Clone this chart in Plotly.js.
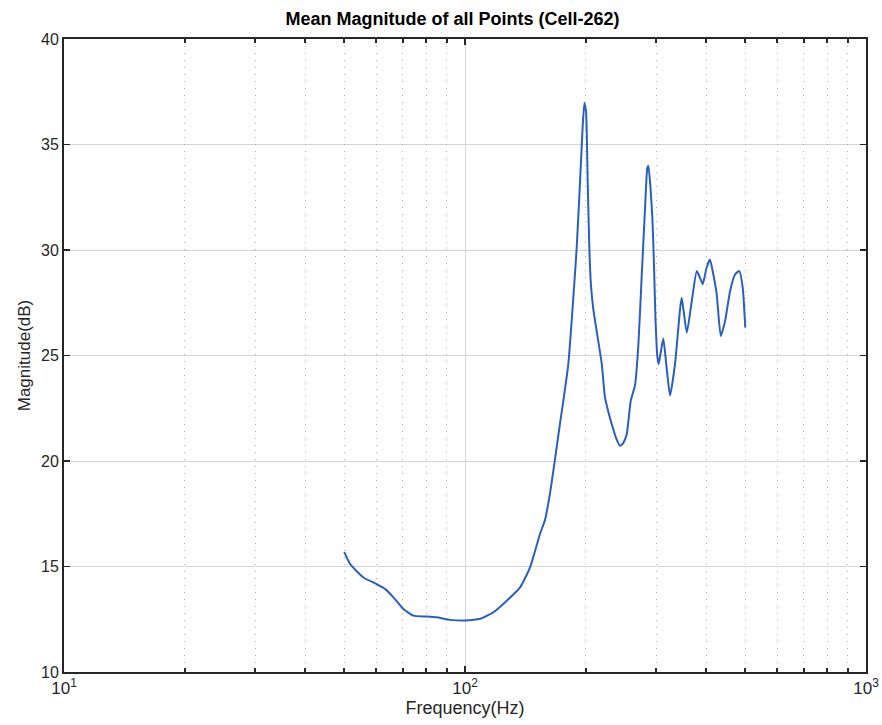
<!DOCTYPE html>
<html>
<head>
<meta charset="utf-8">
<script src="https://cdn.plot.ly/plotly-3.0.1.min.js"></script>
<style>html,body{margin:0;padding:0;background:#fff;}#chart{width:882px;height:725px;}</style>
</head>
<body>
<div id="chart"></div>
<script>
const freqHz = [50.0, 51.7, 55.8, 60.2, 63.2, 66.3, 70.2, 74.3, 80.3, 85.0, 91.8, 100, 109.0, 117.7, 127.1, 137.2, 145.3, 153.8, 158.3, 163.0, 167.7, 172.6, 175.9, 181.0, 186.2, 189.9, 193.6, 196.6, 198.5, 200.4, 202.3, 204.2, 206.0, 208.9, 213.0, 219.3, 223.4, 228.0, 232.2, 238.0, 243.5, 248.0, 253.1, 259.0, 265.5, 270.6, 275.9, 281.2, 284.9, 286.6, 290.0, 293.3, 296.1, 298.4, 301.8, 304.1, 308.0, 312.3, 318.0, 324.6, 334.0, 343.8, 347.1, 357.3, 367.7, 378.4, 385.5, 391.6, 400.6, 408.3, 416.2, 424.4, 434.3, 445.2, 458.1, 471.4, 483.1, 492.7, 500.0];
const magDb = [15.68, 15.12, 14.48, 14.17, 13.94, 13.54, 12.98, 12.67, 12.63, 12.59, 12.47, 12.44, 12.52, 12.83, 13.38, 14.01, 14.96, 16.54, 17.2, 18.5, 20.1, 21.8, 22.85, 24.6, 27.7, 30.1, 33.25, 35.9, 36.97, 36.55, 33.25, 30.1, 28.4, 27.2, 26.15, 24.6, 23.0, 22.3, 21.75, 21.1, 20.72, 20.85, 21.27, 22.85, 23.6, 25.5, 28.8, 32.0, 33.9, 33.98, 33.0, 31.5, 29.2, 26.85, 24.95, 24.6, 25.2, 25.8, 24.5, 23.1, 24.6, 27.2, 27.74, 26.08, 27.58, 29.0, 28.68, 28.38, 29.18, 29.55, 28.84, 27.9, 25.92, 26.63, 28.05, 28.84, 29.0, 28.21, 26.32];
const majorTicks = [10, 100, 1000];
const majorTickText = ['10<sup>1</sup>', '10<sup>2</sup>', '10<sup>3</sup>'];
const minorTicks = [20, 30, 40, 50, 60, 70, 80, 90, 200, 300, 400, 500, 600, 700, 800, 900];
const yTicks = [10, 15, 20, 25, 30, 35, 40];

const font = 'Liberation Sans, Arial, Helvetica, sans-serif';
const traces = [
  {
    x: [10, 1000], y: [10, 10], xaxis: 'x2', yaxis: 'y', type: 'scatter', mode: 'lines',
    line: {width: 0}, hoverinfo: 'skip', showlegend: false
  },
  {
    x: freqHz, y: magDb, type: 'scatter', mode: 'lines',
    line: {color: '#2b5fbd', width: 2, shape: 'spline', smoothing: 0.5},
    hoverinfo: 'x+y', showlegend: false
  }
];
const layout = {
  width: 882, height: 725,
  margin: {l: 64, r: 16, t: 39, b: 53},
  paper_bgcolor: '#ffffff', plot_bgcolor: '#ffffff',
  font: {family: font, size: 14, color: '#262626'},
  title: {text: '<b>Mean Magnitude of all Points (Cell-262)</b>', x: 0.513, xanchor: 'center', y: 0.974, yanchor: 'middle', font: {family: font, size: 18, color: '#000'}},
  xaxis2: {
    type: 'log', range: [1, 3], overlaying: 'x', side: 'bottom',
    tickvals: minorTicks, showticklabels: false, ticks: 'inside', ticklen: 4, tickwidth: 2, tickcolor: '#262626',
    showgrid: true, gridcolor: '#b0b0b0', griddash: '1px,6px', gridwidth: 1,
    showline: true, linecolor: '#262626', linewidth: 2, mirror: 'allticks', zeroline: false, fixedrange: true
  },
  xaxis: {
    type: 'log', range: [1, 3],
    tickvals: majorTicks, ticktext: majorTickText,
    ticks: 'inside', ticklen: 6, tickwidth: 1.5, tickcolor: '#262626',
    showgrid: true, gridcolor: '#d4d4d4', gridwidth: 1,
    showline: true, linecolor: '#262626', linewidth: 2, mirror: 'ticks',
    zeroline: false, tickfont: {family: font, size: 17, color: '#262626'},
    title: {text: 'Frequency(Hz)', font: {family: font, size: 18, color: '#262626'}, standoff: 2}
  },
  yaxis: {
    range: [10, 40], tickvals: yTicks,
    ticks: 'inside', ticklen: 6, tickwidth: 1.5, tickcolor: '#262626',
    showgrid: true, gridcolor: '#d4d4d4', gridwidth: 1,
    showline: true, linecolor: '#262626', linewidth: 2, mirror: 'ticks',
    zeroline: false, tickfont: {family: font, size: 16, color: '#262626'},
    title: {text: 'Magnitude(dB)', font: {family: font, size: 17, color: '#262626'}, standoff: 6}
  }
};
Plotly.newPlot('chart', traces, layout, {staticPlot: true, displayModeBar: false});
</script>
</body>
</html>
